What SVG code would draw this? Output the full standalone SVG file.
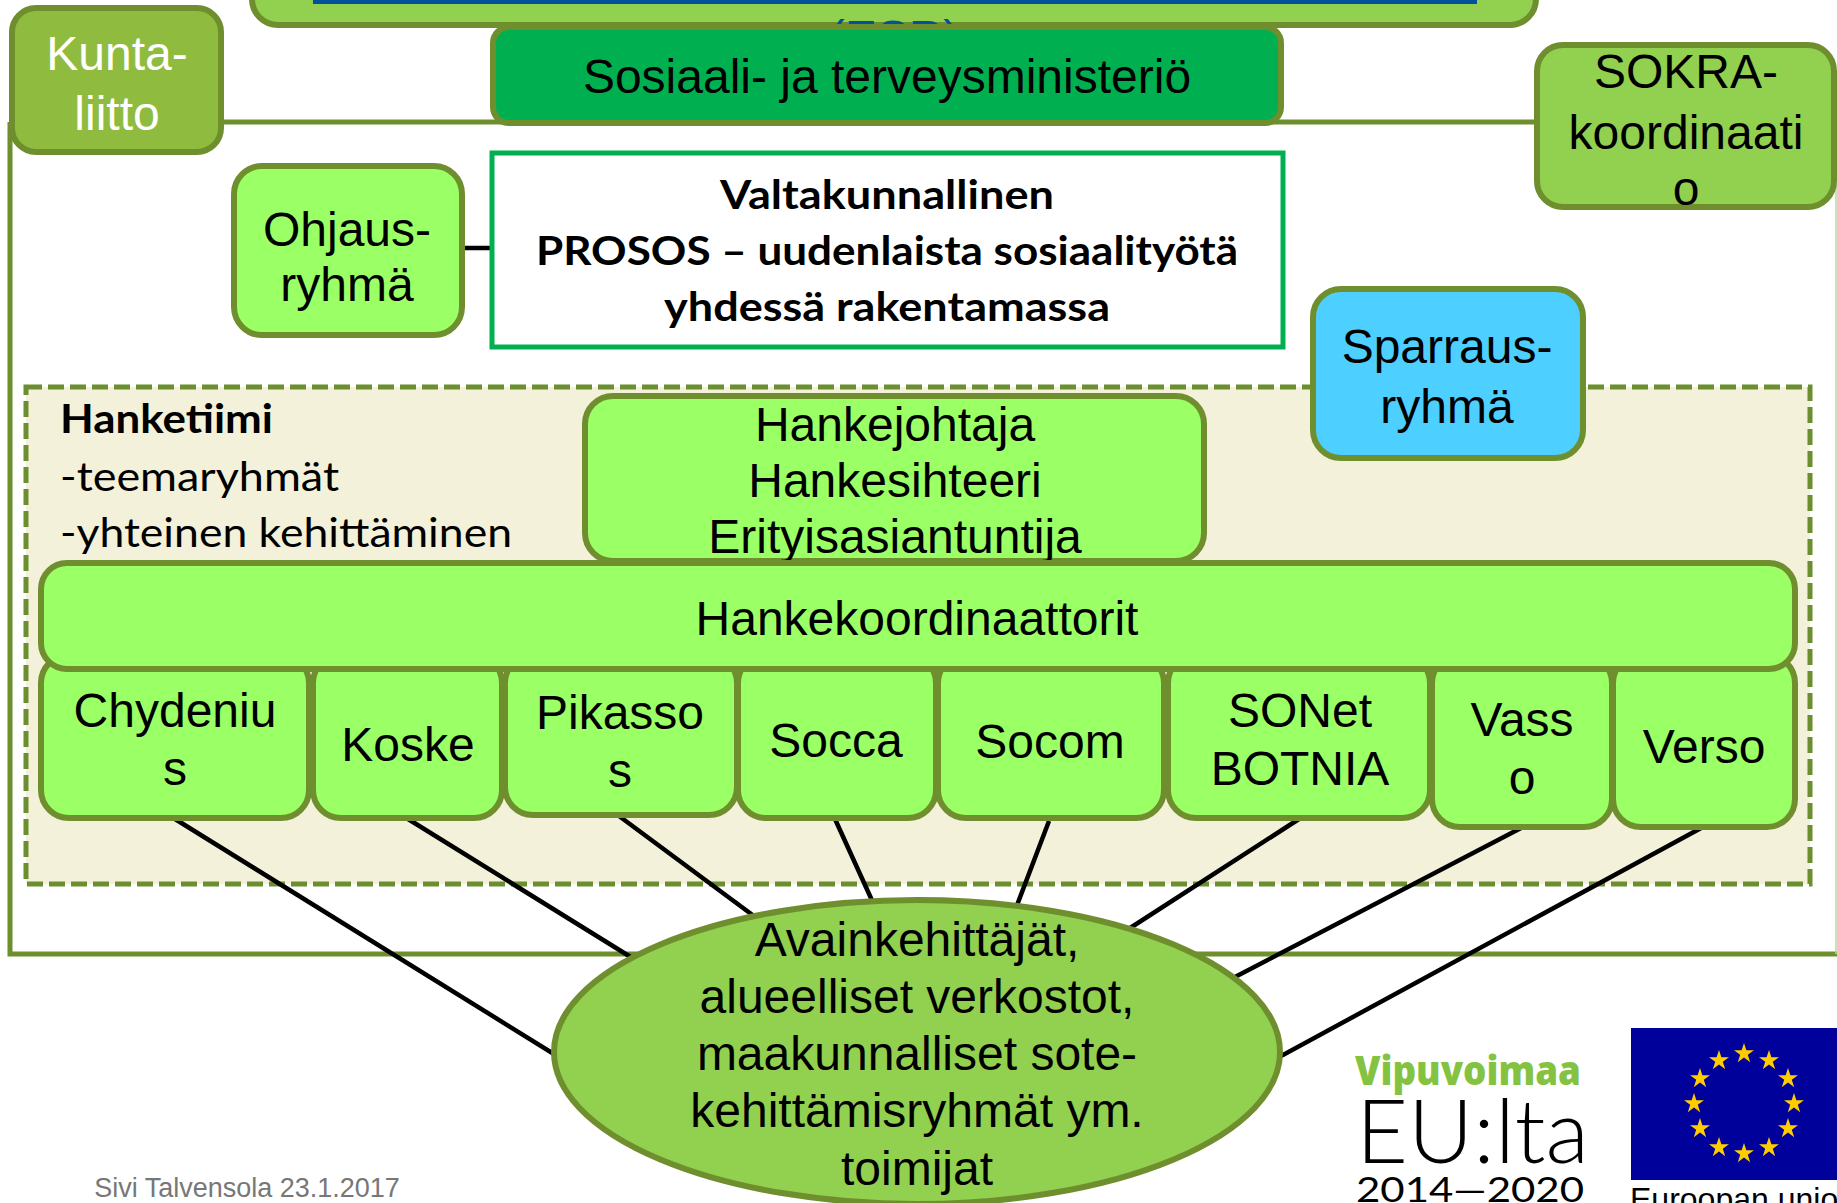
<svg xmlns="http://www.w3.org/2000/svg" xmlns:xlink="http://www.w3.org/1999/xlink" width="1837" height="1203" viewBox="0 0 1837 1203">
<defs><style>
text{font-family:"Liberation Sans",Arial,sans-serif;font-size:48px;text-anchor:middle;fill:#000}
.c{font-family:Lato,"Open Sans",sans-serif;font-size:40px}
.l{text-anchor:start}
.b{font-weight:700}
.n{stroke:#6f8f2f;stroke-width:6}
.lg{fill:#9bff66}
.ol{fill:#92d050}
.cn{stroke:#000;stroke-width:4.500;fill:none}
.st{fill:#ffcc00}
</style>
<path id="s" d="M0-10l2.400 7.300h7.600l-6.200 4.500 2.400 7.400-6.200-4.600-6.200 4.600 2.400-7.400-6.200-4.500h7.600z"/></defs>
<rect width="1837" height="1203" fill="#fff"/>
<g id="top"><rect class="n ol" x="252" y="-60" width="1284" height="85" rx="26"/><rect x="313" y="-10" width="1164" height="14" fill="#00529b"/><text x="894" y="54" style="fill:#00529b">(ESR)</text></g>
<g id="frame"><path d="M10 122H1837M10 122V954H1837" fill="none" stroke="#6f8f2f" stroke-width="5"/><path d="M1836 122V954" fill="none" stroke="#c5d5a0" stroke-width="1.500"/></g>
<g id="hanketiimi"><rect x="26" y="387" width="1784" height="497" fill="#f3f1d9" stroke="#6b8e2e" stroke-width="5" stroke-dasharray="16 6"/>
<text class="c b l" x="60" y="433" textLength="213" lengthAdjust="spacingAndGlyphs">Hanketiimi</text><text class="c l" x="60" y="491" textLength="279" lengthAdjust="spacingAndGlyphs">-teemaryhmät</text><text class="c l" x="60" y="547" textLength="452" lengthAdjust="spacingAndGlyphs">-yhteinen kehittäminen</text></g>
<g id="connectors">
<path class="cn" d="M175 819L570 1064M408 819L650 969M619 816L770 928M835 819L890 940M1049 821L1000 950M1299 819L1110 941M1523 827L1210 990M1703 827L1270 1062M463 248H495"/>
</g>
<g id="stm"><rect class="n" x="493" y="27" width="788" height="96" rx="16" fill="#00b050"/><text x="887" y="93">Sosiaali- ja terveysministeriö</text></g>
<g id="kuntaliitto"><rect class="n" x="12" y="8" width="209" height="144" rx="24" fill="#8fbc3f"/><text x="117" y="70" style="fill:#fff">Kunta-</text><text x="117" y="130" style="fill:#fff">liitto</text></g>
<g id="sokra"><rect class="n ol" x="1537" y="45" width="297" height="162" rx="26"/><text x="1686" y="88">SOKRA-</text><text x="1686" y="149">koordinaati</text><text x="1686" y="205">o</text></g>
<g id="ohjaus"><rect class="n lg" x="234" y="166" width="228" height="169" rx="28"/><text x="347" y="246">Ohjaus-</text><text x="347" y="301">ryhmä</text></g>
<g id="valtakunnallinen"><rect x="492" y="153" width="791" height="194" fill="#fff" stroke="#00b050" stroke-width="5"/><text class="c b" x="887" y="209" textLength="334" lengthAdjust="spacingAndGlyphs">Valtakunnallinen</text><text class="c b" x="887" y="265" textLength="702" lengthAdjust="spacingAndGlyphs">PROSOS – uudenlaista sosiaalityötä</text><text class="c b" x="887" y="321" textLength="446" lengthAdjust="spacingAndGlyphs">yhdessä rakentamassa</text></g>
<g id="sparraus"><rect class="n" x="1313" y="289" width="270" height="169" rx="28" fill="#4dcfff"/><text x="1447" y="363">Sparraus-</text><text x="1447" y="423">ryhmä</text></g>
<g id="hankejohtaja"><rect class="n lg" x="585" y="396" width="619" height="165" rx="28"/><text x="895" y="441">Hankejohtaja</text><text x="895" y="497">Hankesihteeri</text><text x="895" y="553">Erityisasiantuntija</text></g>
<g id="n1"><rect class="n lg" x="41" y="655" width="268" height="163" rx="28"/><text x="175" y="727">Chydeniu</text><text x="175" y="785">s</text></g>
<g id="n2"><rect class="n lg" x="313" y="655" width="189" height="163" rx="28"/><text x="408" y="761">Koske</text></g>
<g id="n3"><rect class="n lg" x="505" y="655" width="232" height="160" rx="28"/><text x="620" y="729">Pikasso</text><text x="620" y="787">s</text></g>
<g id="n4"><rect class="n lg" x="738" y="655" width="198" height="163" rx="28"/><text x="836" y="757">Socca</text></g>
<g id="n5"><rect class="n lg" x="938" y="655" width="226" height="163" rx="28"/><text x="1050" y="758">Socom</text></g>
<g id="n6"><rect class="n lg" x="1168" y="655" width="262" height="163" rx="28"/><text x="1300" y="727">SONet</text><text x="1300" y="785">BOTNIA</text></g>
<g id="n7"><rect class="n lg" x="1432" y="655" width="180" height="172" rx="28"/><text x="1522" y="736">Vass</text><text x="1522" y="794">o</text></g>
<g id="n8"><rect class="n lg" x="1613" y="655" width="182" height="172" rx="28"/><text x="1704" y="763">Verso</text></g>
<g id="koordinaattorit"><rect class="n lg" x="41" y="563" width="1754" height="106" rx="26"/><text x="917" y="635">Hankekoordinaattorit</text></g>
<g id="avain"><ellipse class="n ol" cx="917" cy="1052" rx="363" ry="152"/><text x="917" y="956">Avainkehittäjät,</text><text x="917" y="1013">alueelliset verkostot,</text><text x="917" y="1070">maakunnalliset sote-</text><text x="917" y="1127">kehittämisryhmät ym.</text><text x="917" y="1185">toimijat</text></g>
<text x="247" y="1197" style="font-size:27px;fill:#777">Sivi Talvensola 23.1.2017</text>
<g id="logo"><text class="l" x="1355" y="1085" textLength="226" lengthAdjust="spacingAndGlyphs" style="font-family:'Open Sans',sans-serif;font-weight:800;font-size:41px;fill:#84c341">Vipuvoimaa</text><text class="l" x="1356" y="1163" textLength="233" lengthAdjust="spacingAndGlyphs" style="font-family:Lato,sans-serif;font-weight:300;font-size:88px">EU:lta</text><text class="l" x="1356" y="1202" textLength="228" lengthAdjust="spacingAndGlyphs" style="font-family:Lato,sans-serif;font-size:35px">2014—2020</text></g>
<g id="eu"><rect x="1631" y="1028" width="206" height="152" fill="#00009b"/>
<g class="st"><use xlink:href="#s" href="#s" x="1744" y="1053"/><use href="#s" x="1769" y="1060"/><use href="#s" x="1788" y="1078"/><use href="#s" x="1794" y="1103"/><use href="#s" x="1788" y="1128"/><use href="#s" x="1769" y="1147"/><use href="#s" x="1744" y="1153"/><use href="#s" x="1719" y="1147"/><use href="#s" x="1700" y="1128"/><use href="#s" x="1694" y="1103"/><use href="#s" x="1700" y="1078"/><use href="#s" x="1719" y="1060"/></g>
<text class="l" x="1630" y="1210" style="font-size:32px">Euroopan unioni</text></g>
</svg>
